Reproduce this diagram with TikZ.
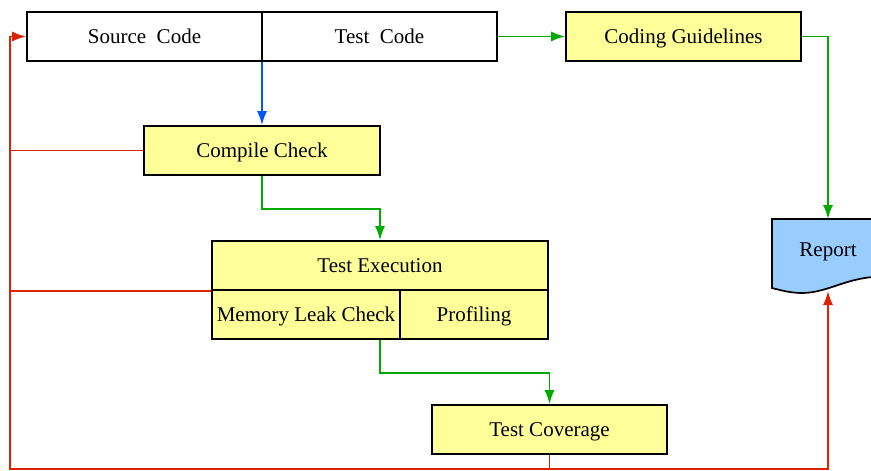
\documentclass[tikz,border=0pt]{standalone}
\usepackage{fontspec}
\setmainfont{Liberation Serif}
\usetikzlibrary{arrows.meta}
\definecolor{boxyellow}{RGB}{255,255,153}
\definecolor{reportblue}{RGB}{153,204,255}
\definecolor{linered}{RGB}{221,34,0}
\definecolor{linegreen}{RGB}{0,170,0}
\definecolor{lineblue}{RGB}{0,85,255}
\tikzset{
  lbl/.style={font=\fontsize{21}{25}\selectfont,text height=15pt,text depth=1pt},
  blk/.style={lbl,draw=black,line width=1.7pt,minimum width=235pt,minimum height=49pt,inner sep=0pt},
  ybox/.style={blk,fill=boxyellow},
  flow/.style={line width=1.7pt,-{Latex[length=14pt,width=10pt]}},
}
\begin{document}
\begin{tikzpicture}[x=1pt,y=-1pt]
\useasboundingbox (0,0) rectangle (871,471);

\node[blk] (src) at (144.5,36.5) {Source~~Code};
\node[blk] (tst) at (379.5,36.5) {Test~~Code};
\node[ybox] (gui) at (683.5,36.5) {Coding Guidelines};
\node[ybox,minimum width=236pt] (chk) at (262,150.5) {Compile Check};
\node[ybox,minimum width=336pt] (exe) at (380,265.5) {Test Execution};
\node[ybox,minimum width=188pt] (mem) at (306,314.5) {Memory Leak Check};
\node[ybox,minimum width=148pt] (prof) at (474,314.5) {Profiling};
\node[ybox] (cov) at (549.5,429.5) {Test Coverage};

% report document shape
\draw[line width=1.7pt,fill=reportblue] (772,219) -- (890,219) -- (890,277)
  .. controls (850,274) and (830,293) .. (802,293)
  .. controls (790,293) and (780,290) .. (772,288) -- cycle;
\node[lbl] (rep) at (828,249) {Report};
\coordinate (reptop) at (828,219);
\coordinate (repbot) at (828,291);
\coordinate (rail) at (10,469);
\coordinate (railR) at (828,469);

\draw[flow,lineblue] (chk.north |- src.south) -- (chk.north);
\draw[flow,linegreen] (chk.south) -- ++(0,33) -| (exe.north);
\draw[flow,linegreen] (exe.south |- mem.south) -- ++(0,33) -| (cov.north);
\draw[flow,linegreen] (tst.east) -- (gui.west);
\draw[flow,linegreen] (gui.east) -| (reptop);
\draw[flow,linered] (cov.south) |- (rail) |- (src.west);
\draw[flow,linered] (cov.south) |- (railR) -- (repbot);
\draw[line width=1.7pt,linered] (chk.west) -- (chk.west -| rail);
\draw[line width=1.7pt,linered] (exe.south west) -- (exe.south west -| rail);
\end{tikzpicture}
\end{document}
